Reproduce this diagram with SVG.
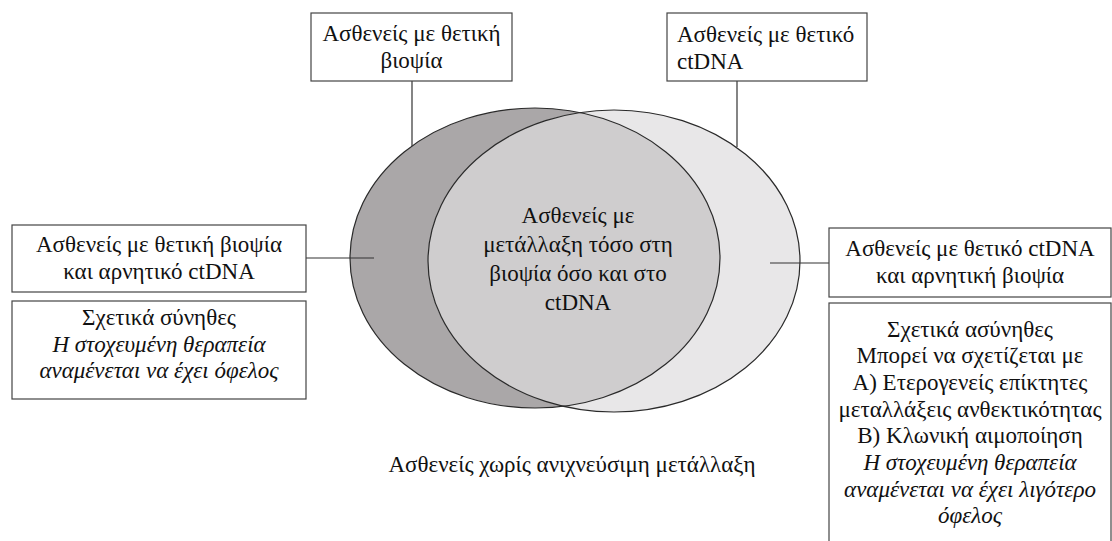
<svg xmlns="http://www.w3.org/2000/svg" width="1112" height="541" viewBox="0 0 1112 541">
<style>
.t{font-family:"Liberation Serif","Times New Roman",serif;font-size:23px;fill:#111;}
.c{text-anchor:middle;}
.i{font-style:italic;}
.box{fill:#fff;stroke:#444;stroke-width:1.2;}
.ln{stroke:#333;stroke-width:1.2;fill:none;}
.el{fill:none;stroke:#2a2a2a;stroke-width:1.2;}
</style>
<defs>
<clipPath id="clipL"><ellipse cx="535" cy="258" rx="185" ry="150"/></clipPath>
</defs>
<g id="venn">
<ellipse cx="535" cy="258" rx="185" ry="150" fill="#aaa7a8"/>
<ellipse cx="614" cy="261" rx="186" ry="151" fill="#e8e7e8"/>
<ellipse cx="614" cy="261" rx="186" ry="151" fill="#cfcdce" clip-path="url(#clipL)"/>
<ellipse class="el" cx="535" cy="258" rx="185" ry="150"/>
<ellipse class="el" cx="614" cy="261" rx="186" ry="151"/>
</g>
<g id="connectors">
<line class="ln" x1="412" y1="81" x2="412" y2="146"/>
<line class="ln" x1="737" y1="81" x2="737" y2="147"/>
<line class="ln" x1="306" y1="258" x2="374" y2="258"/>
<line class="ln" x1="770" y1="263" x2="829" y2="263"/>
</g>
<g id="box-biopsy">
<rect class="box" x="311" y="13" width="201" height="68"/>
<text class="t c" x="411.5" y="41">Ασθενείς με θετική</text>
<text class="t c" x="411.5" y="68">βιοψία</text>
</g>
<g id="box-ctdna">
<rect class="box" x="667" y="13" width="200" height="68"/>
<text class="t" x="677" y="42">Ασθενείς με θετικό</text>
<text class="t" x="677" y="69">ctDNA</text>
</g>
<g id="box-left">
<rect class="box" x="12" y="225" width="294" height="67"/>
<text class="t c" x="159" y="252">Ασθενείς με θετική βιοψία</text>
<text class="t c" x="159" y="279">και αρνητικό ctDNA</text>
</g>
<g id="box-left-note">
<rect class="box" x="12" y="301" width="294" height="98"/>
<text class="t c" x="159" y="325">Σχετικά σύνηθες</text>
<text class="t c i" x="159" y="352">Η στοχευμένη θεραπεία</text>
<text class="t c i" x="159" y="378">αναμένεται να έχει όφελος</text>
</g>
<g id="center">
<text class="t c" x="578" y="223">Ασθενείς με</text>
<text class="t c" x="578" y="252">μετάλλαξη τόσο στη</text>
<text class="t c" x="578" y="281">βιοψία όσο και στο</text>
<text class="t c" x="578" y="310">ctDNA</text>
</g>
<g id="box-right">
<rect class="box" x="829" y="228" width="282" height="69"/>
<text class="t c" x="970" y="256">Ασθενείς με θετικό ctDNA</text>
<text class="t c" x="970" y="283">και αρνητική βιοψία</text>
</g>
<g id="box-right-note">
<rect class="box" x="829" y="303" width="282" height="250"/>
<text class="t c" x="970" y="337">Σχετικά ασύνηθες</text>
<text class="t c" x="970" y="363">Μπορεί να σχετίζεται με</text>
<text class="t c" x="970" y="390">A) Ετερογενείς επίκτητες</text>
<text class="t c" x="970" y="417">μεταλλάξεις ανθεκτικότητας</text>
<text class="t c" x="970" y="443">B) Κλωνική αιμοποίηση</text>
<text class="t c i" x="970" y="470">Η στοχευμένη θεραπεία</text>
<text class="t c i" x="970" y="497">αναμένεται να έχει λιγότερο</text>
<text class="t c i" x="970" y="523">όφελος</text>
</g>
<g id="none-label">
<text class="t c" x="572" y="472">Ασθενείς χωρίς ανιχνεύσιμη μετάλλαξη</text>
</g>
</svg>
